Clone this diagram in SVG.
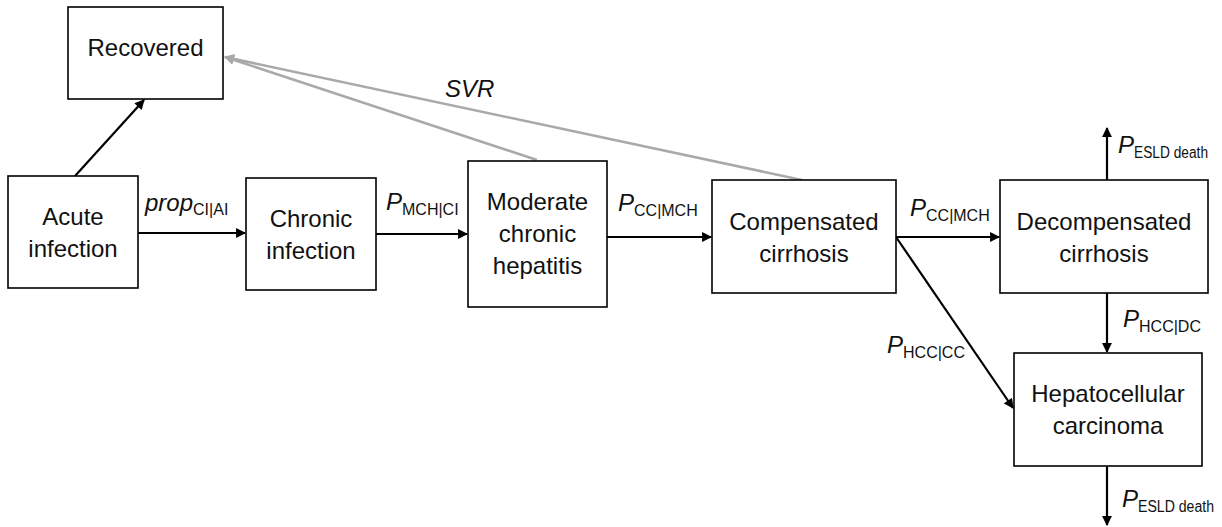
<svg xmlns="http://www.w3.org/2000/svg" width="1222" height="527" viewBox="0 0 1222 527">
<style>
.box{fill:#fff;stroke:#000;stroke-width:1.6}
.t{font-family:"Liberation Sans",Arial,sans-serif;font-size:24px;fill:#111;text-anchor:middle}
.lbl{font-family:"Liberation Sans",Arial,sans-serif;font-size:24px;fill:#111}
.it{font-style:italic}
.sub{font-size:16px}
.k{stroke:#000;stroke-width:2.2;fill:none;marker-end:url(#ah)}
.g{stroke:#a9a9a9;stroke-width:2.5;fill:none}
</style>
<defs>
<marker id="ah" viewBox="0 0 10 10" refX="9" refY="5" markerWidth="5" markerHeight="4.5" orient="auto" markerUnits="strokeWidth">
<path d="M0,0 L10,5 L0,10 z" fill="#000"/>
</marker>
<marker id="ahg" viewBox="0 0 10 10" refX="9" refY="5" markerWidth="5" markerHeight="4" orient="auto" markerUnits="strokeWidth">
<path d="M0,0 L10,5 L0,10 z" fill="#a9a9a9"/>
</marker>
</defs>
<g id="connectors">
<line class="k" x1="75" y1="176" x2="144" y2="100"/>
<line class="k" x1="138" y1="233" x2="245" y2="233"/>
<line class="k" x1="376" y1="234" x2="467" y2="234"/>
<line class="k" x1="607" y1="237" x2="711" y2="237"/>
<line class="k" x1="896" y1="237" x2="999" y2="237"/>
<line class="k" x1="896" y1="237" x2="1013" y2="408"/>
<line class="k" x1="1107" y1="180" x2="1107" y2="128"/>
<line class="k" x1="1107" y1="293" x2="1107" y2="352"/>
<line class="k" x1="1107" y1="466" x2="1107" y2="525"/>
<line class="g" x1="537" y1="160" x2="225" y2="57" marker-end="url(#ahg)"/>
<line class="g" x1="802" y1="180" x2="225" y2="57" marker-end="url(#ahg)"/>
</g>
<g id="labels">
<text class="lbl it" x="445" y="97">SVR</text>
<text class="lbl" x="145" y="211"><tspan class="it">prop</tspan><tspan class="sub" dy="4">CI|AI</tspan></text>
<text class="lbl" x="386" y="210"><tspan class="it">P</tspan><tspan class="sub" dy="5">MCH|CI</tspan></text>
<text class="lbl" x="618" y="211"><tspan class="it">P</tspan><tspan class="sub" dy="5">CC|MCH</tspan></text>
<text class="lbl" x="910" y="216"><tspan class="it">P</tspan><tspan class="sub" dy="5">CC|MCH</tspan></text>
<text class="lbl" x="1118" y="153"><tspan class="it">P</tspan><tspan class="sub" dy="5" textLength="74" lengthAdjust="spacingAndGlyphs">ESLD death</tspan></text>
<text class="lbl" x="1123" y="327"><tspan class="it">P</tspan><tspan class="sub" dy="5">HCC|DC</tspan></text>
<text class="lbl" x="887" y="353"><tspan class="it">P</tspan><tspan class="sub" dy="5">HCC|CC</tspan></text>
<text class="lbl" x="1122" y="507"><tspan class="it">P</tspan><tspan class="sub" dy="5" textLength="76" lengthAdjust="spacingAndGlyphs">ESLD death</tspan></text>
</g>
<g id="recovered">
<rect class="box" x="68" y="7" width="155" height="92"/>
<text class="t" x="145.5" y="56">Recovered</text>
</g>
<g id="acute">
<rect class="box" x="8" y="176" width="130" height="112"/>
<text class="t" x="73" y="225">Acute</text>
<text class="t" x="73" y="257">infection</text>
</g>
<g id="chronic">
<rect class="box" x="246" y="178" width="130" height="112"/>
<text class="t" x="311" y="227">Chronic</text>
<text class="t" x="311" y="259">infection</text>
</g>
<g id="moderate">
<rect class="box" x="468" y="161" width="139" height="146"/>
<text class="t" x="537.5" y="210">Moderate</text>
<text class="t" x="537.5" y="242">chronic</text>
<text class="t" x="537.5" y="274">hepatitis</text>
</g>
<g id="compensated">
<rect class="box" x="712" y="180" width="184" height="113"/>
<text class="t" x="804" y="230">Compensated</text>
<text class="t" x="804" y="262">cirrhosis</text>
</g>
<g id="decompensated">
<rect class="box" x="1000" y="180" width="208" height="113"/>
<text class="t" x="1104" y="230">Decompensated</text>
<text class="t" x="1104" y="262">cirrhosis</text>
</g>
<g id="hcc">
<rect class="box" x="1014" y="353" width="188" height="113"/>
<text class="t" x="1108" y="402">Hepatocellular</text>
<text class="t" x="1108" y="434">carcinoma</text>
</g>
</svg>
